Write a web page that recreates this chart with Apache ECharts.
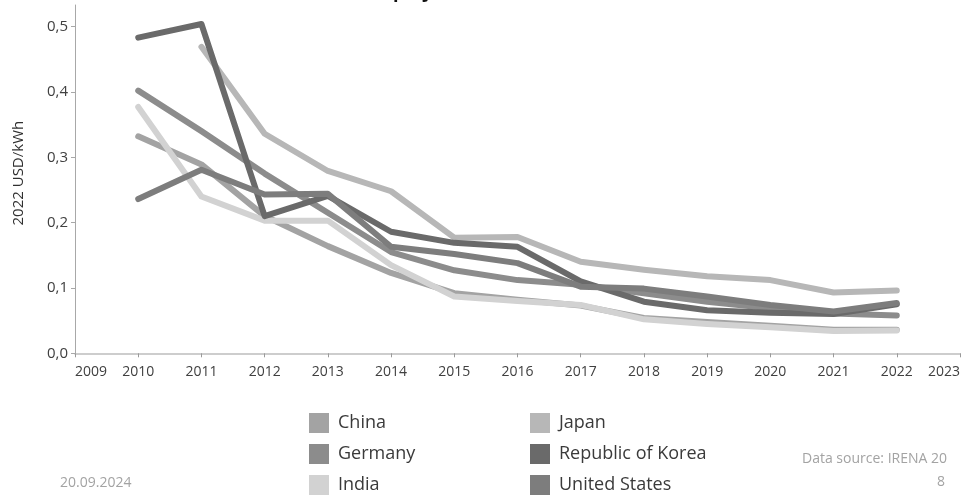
<!DOCTYPE html>
<html>
<head>
<meta charset="utf-8">
<script src="https://cdn.jsdelivr.net/npm/echarts@6/dist/echarts.min.js"></script>
<style>
  html, body { margin: 0; padding: 0; background: #ffffff; }
  #chart { width: 962px; height: 500px; }
</style>
</head>
<body>
<div id="chart"></div>
<script>
// Years on the horizontal axis
var years = [2010, 2011, 2012, 2013, 2014, 2015, 2016, 2017, 2018, 2019, 2020, 2021, 2022];

// Cost of electricity, 2022 USD/kWh
var china   = [0.332, 0.289, 0.210, 0.164, 0.123, 0.092, 0.082, 0.073, 0.054, 0.048, 0.042, 0.036, 0.036];
var germany = [0.402, 0.340, 0.275, 0.215, 0.155, 0.127, 0.112, 0.105, 0.092, 0.079, 0.069, 0.061, 0.058];
var india   = [0.377, 0.240, 0.203, 0.203, 0.135, 0.087, 0.080, 0.074, 0.052, 0.045, 0.040, 0.034, 0.035];
var japan   = [null, 0.469, 0.336, 0.279, 0.248, 0.177, 0.178, 0.140, 0.128, 0.118, 0.112, 0.093, 0.096];
var korea   = [0.483, 0.504, 0.210, 0.241, 0.186, 0.169, 0.163, 0.110, 0.079, 0.066, 0.062, 0.060, 0.075];
var usa     = [0.236, 0.281, 0.243, 0.244, 0.163, 0.152, 0.138, 0.102, 0.099, 0.087, 0.074, 0.064, 0.077];

var seriesNames = ['China', 'Germany', 'India', 'Japan', 'Republic of Korea', 'United States'];
var seriesValues = [china, germany, india, japan, korea, usa];
var seriesColors = ['#a3a3a3', '#8c8c8c', '#d2d2d2', '#b7b7b7', '#6a6a6a', '#7d7d7d'];

var yTicks = [0, 0.1, 0.2, 0.3, 0.4, 0.5];

function pairs(vals) {
  var out = [];
  for (var i = 0; i < years.length; i++) {
    if (vals[i] !== null) out.push([years[i], vals[i]]);
  }
  return out;
}

var series = seriesNames.map(function (name, i) {
  return {
    name: name,
    type: 'line',
    data: pairs(seriesValues[i]),
    showSymbol: false,
    symbol: 'none',
    smooth: false,
    color: seriesColors[i],
    lineStyle: { width: 6, color: seriesColors[i], cap: 'round', join: 'round' },
    emphasis: { disabled: true }
  };
});

var font = "'Open Sans', 'Noto Sans', sans-serif";

function legendAt(left, names) {
  return {
    orient: 'vertical',
    left: left,
    top: 413,
    padding: 0,
    height: 90,
    icon: 'rect',
    itemWidth: 20,
    itemHeight: 20,
    itemGap: 11,
    selectedMode: false,
    data: names,
    textStyle: { fontSize: 18, color: '#3a3a3a', fontFamily: font, padding: [0, 0, 0, 4] }
  };
}

var chart = echarts.init(document.getElementById('chart'), null, { renderer: 'canvas' });
chart.setOption({
  animation: false,
  backgroundColor: '#ffffff',
  grid: { left: 75, right: 2, top: 5, bottom: 146.7, containLabel: false, outerBoundsMode: 'none' },
  legend: [
    legendAt(309, seriesNames.slice(0, 3)),
    legendAt(530, seriesNames.slice(3, 6))
  ],
  xAxis: {
    type: 'value',
    min: 2009,
    max: 2023,
    interval: 1,
    axisLine: { show: true, lineStyle: { color: '#bdbdbd', width: 1.5 } },
    axisTick: { show: true, length: 4, lineStyle: { color: '#9a9a9a' } },
    splitLine: { show: false },
    axisLabel: {
      color: '#404040',
      fontSize: 14,
      fontFamily: font,
      margin: 12,
      alignMinLabel: 'left',
      alignMaxLabel: 'right',
      formatter: function (v) { return String(v); }
    }
  },
  yAxis: {
    type: 'value',
    min: 0,
    max: 0.533,
    name: '2022 USD/kWh',
    nameLocation: 'middle',
    nameRotate: 90,
    nameGap: 49,
    nameTextStyle: { color: '#303030', fontSize: 15, fontFamily: font, padding: [0, 0, 0, 12] },
    axisLine: { show: true, lineStyle: { color: '#a8a8a8', width: 1 } },
    axisTick: { show: true, length: 4, customValues: yTicks, lineStyle: { color: '#a8a8a8' } },
    splitLine: { show: false },
    axisLabel: {
      color: '#404040',
      fontSize: 15,
      fontFamily: font,
      margin: 7,
      customValues: yTicks,
      formatter: function (v) { return v.toFixed(1).replace('.', ','); }
    }
  },
  series: series,
  graphic: [
    {
      type: 'text', left: 393, top: -16,
      style: { text: 'project, selected countries', fontSize: 18, fontWeight: 'bold', fill: '#111111', fontFamily: font }
    },
    {
      type: 'text', left: 60, top: 476,
      style: { text: '20.09.2024', fontSize: 14, fill: '#a3a3a3', fontFamily: font }
    },
    {
      type: 'text', left: 802, top: 452,
      style: { text: 'Data source: IRENA 20', fontSize: 14, fill: '#a3a3a3', fontFamily: font }
    },
    {
      type: 'text', left: 937, top: 475,
      style: { text: '8', fontSize: 14, fill: '#a3a3a3', fontFamily: font }
    }
  ]
});
</script>
</body>
</html>
